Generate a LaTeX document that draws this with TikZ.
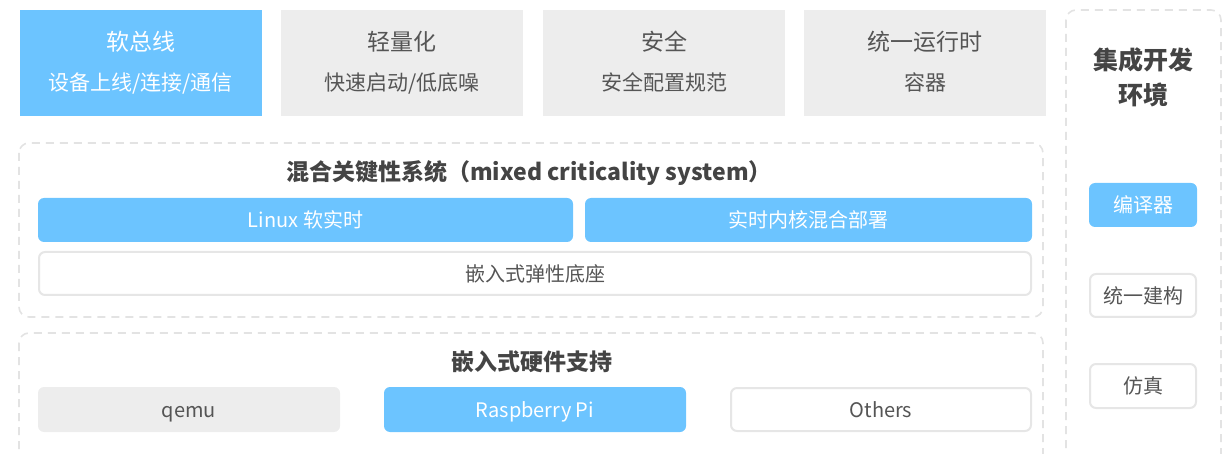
\documentclass[tikz,border=0pt]{standalone}
\usepackage{fontspec}
\setmainfont{Noto Sans CJK SC}
\definecolor{skyblue}{HTML}{6CC4FF}
\definecolor{panelgray}{HTML}{EDEDED}
\definecolor{edgegray}{HTML}{E6E6E6}
\definecolor{dashgray}{HTML}{E3E3E3}
\definecolor{inkgray}{HTML}{555555}
\definecolor{headgray}{HTML}{444444}
\tikzset{
  tile/.style={rectangle, inner sep=0pt, minimum width=242pt, minimum height=106pt},
  bluetile/.style={tile, fill=skyblue},
  graytile/.style={tile, fill=panelgray},
  tiletitle/.style={inner sep=0pt, text height=20.2pt, text depth=2.8pt, font=\fontsize{23}{26}\selectfont},
  tilesub/.style={inner sep=0pt, text height=18.5pt, text depth=2.5pt, font=\fontsize{21}{24}\selectfont},
  bar/.style={rectangle, rounded corners=6pt, inner sep=0pt, minimum height=44pt,
    text height=17.6pt, text depth=2.4pt, font=\fontsize{20}{24}\selectfont},
  bluebar/.style={bar, fill=skyblue, text=white},
  graybar/.style={bar, fill=panelgray, text=inkgray},
  whitebar/.style={bar, fill=white, draw=edgegray, line width=2pt, text=inkgray},
  zone/.style={draw=dashgray, line width=1.6pt, dash pattern=on 8pt off 6pt, rounded corners=10pt},
  heading/.style={inner sep=0pt, text height=20.2pt, text depth=2.8pt, text=headgray,
    font=\bfseries\fontsize{23}{27}\selectfont},
}
\begin{document}
\begin{tikzpicture}[x=1pt, y=-1pt]
  \useasboundingbox (0,0) rectangle (1229,454);
  \clip (0,0) rectangle (1229,454);

  % top row of feature tiles
  \node[bluetile] (bus) at (140.5,63) {};
  \node[tiletitle, text=white] (bus-t) at (140.5,42) {软总线};
  \node[tilesub, text=white] (bus-s) at (140.5,83) {设备上线/连接/通信};

  \node[graytile] (light) at (402,63) {};
  \node[tiletitle, text=inkgray] (light-t) at (402,42) {轻量化};
  \node[tilesub, text=inkgray] (light-s) at (402,83) {快速启动/低底噪};

  \node[graytile] (safe) at (664,63) {};
  \node[tiletitle, text=inkgray] (safe-t) at (664,42) {安全};
  \node[tilesub, text=inkgray] (safe-s) at (664,83) {安全配置规范};

  \node[graytile] (rt) at (925,63) {};
  \node[tiletitle, text=inkgray] (rt-t) at (925,42) {统一运行时};
  \node[tilesub, text=inkgray] (rt-s) at (925,83) {容器};

  % integrated development environment column
  \draw[zone] (1066,10) rectangle (1221,480);
  \node[inner sep=0pt, text=headgray, font=\bfseries\fontsize{25}{35}\selectfont, align=center] (ide) at (1143,77) {集成开发\\环境};
  \node[bluebar, minimum width=108pt] (compiler) at (1143,205) {编译器};
  \node[whitebar, minimum width=106pt, minimum height=43pt] (build) at (1143,295.5) {统一建构};
  \node[whitebar, minimum width=106pt, minimum height=44pt] (sim) at (1143,386) {仿真};

  % mixed criticality system
  \draw[zone] (19,143) rectangle (1043,317);
  \node[heading] (mcs) at (529,172) {混合关键性系统（mixed criticality system）};
  \node[bluebar, minimum width=535pt] (linux) at (305.5,220) {Linux 软实时};
  \node[bluebar, minimum width=447pt] (mixed) at (808.5,220) {实时内核混合部署};
  \node[whitebar, minimum width=992pt, minimum height=43pt] (base) at (535,273.5) {嵌入式弹性底座};

  % embedded hardware support
  \draw[zone] (19,333) rectangle (1043,480);
  \node[heading] (hw) at (532,362) {嵌入式硬件支持};
  \node[graybar, minimum width=302pt, minimum height=45pt] (qemu) at (189,409.5) {qemu};
  \node[bluebar, minimum width=302pt, minimum height=45pt] (rpi) at (535,409.5) {Raspberry Pi};
  \node[whitebar, minimum width=300pt, minimum height=43pt] (others) at (881,409.5) {Others};
\end{tikzpicture}
\end{document}
